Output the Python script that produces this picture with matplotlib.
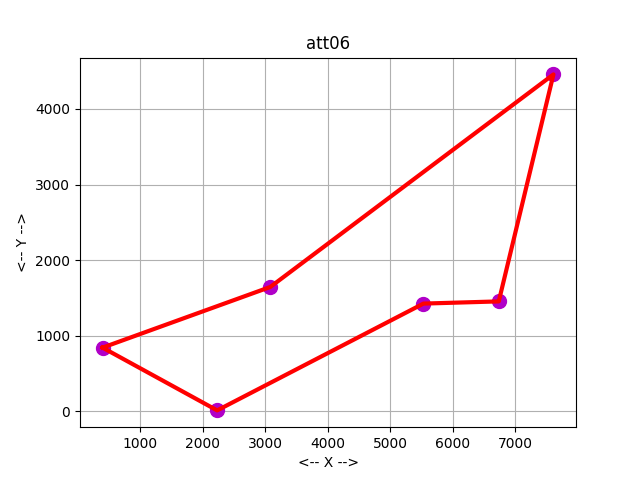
import numpy as np
import matplotlib
matplotlib.use("Agg")
import matplotlib.pyplot as plt

# att06 tour (city coordinates in visiting order)
x = [401, 2233, 5530, 6734, 7608, 3082]
y = [841, 10, 1424, 1453, 4458, 1644]

tour_x = x + [x[0]]
tour_y = y + [y[0]]

plt.figure(figsize=(6.4, 4.8), dpi=100)
plt.scatter(x, y, s=100, c="#b000c8", zorder=2)
plt.plot(tour_x, tour_y, color="red", linewidth=3, zorder=3)
plt.title("att06")
plt.xlabel("<-- X -->")
plt.ylabel("<-- Y -->")
plt.grid(True)
plt.gca().set_axisbelow(True)

plt.savefig("out.png")
plt.close()
